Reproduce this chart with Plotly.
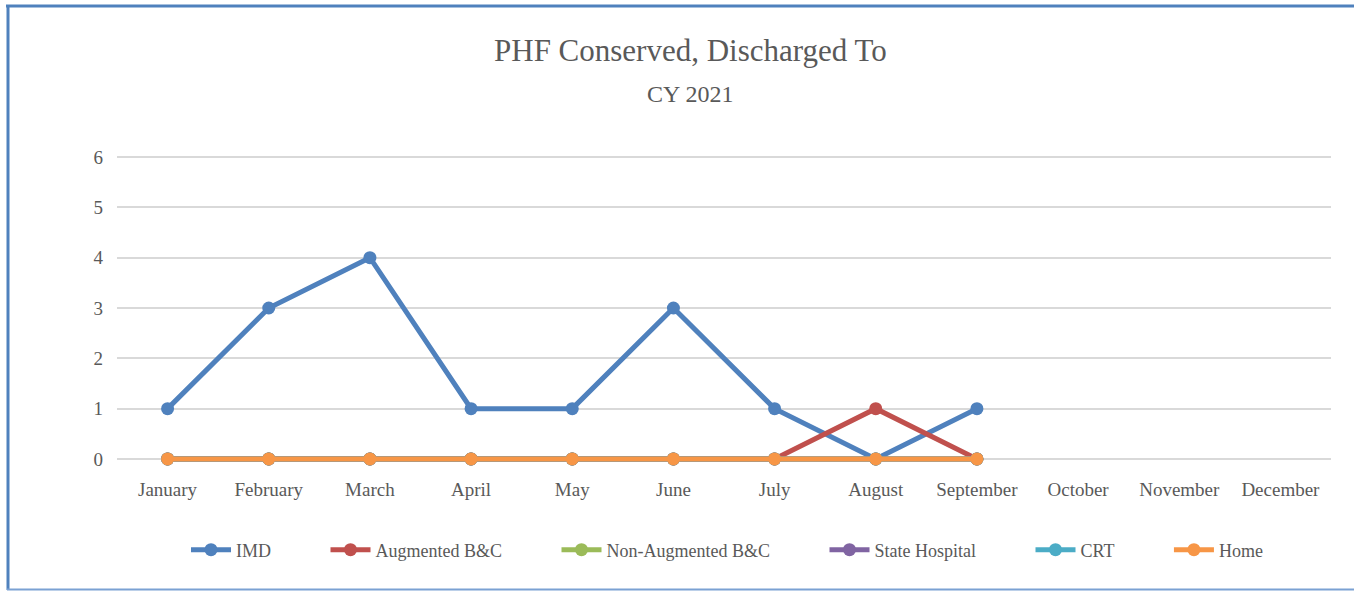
import plotly.graph_objects as go

months = ["January", "February", "March", "April", "May", "June", "July",
          "August", "September", "October", "November", "December"]
imd = [1, 3, 4, 1, 1, 3, 1, 0, 1]
augmented = [0, 0, 0, 0, 0, 0, 0, 1, 0]
non_augmented = [0, 0, 0, 0, 0, 0, 0, 0, 0]
state_hospital = [0, 0, 0, 0, 0, 0, 0, 0, 0]
crt = [0, 0, 0, 0, 0, 0, 0, 0, 0]
home = [0, 0, 0, 0, 0, 0, 0, 0, 0]

series = [
    ("IMD", imd, "#4F81BD"),
    ("Augmented B&C", augmented, "#C0504D"),
    ("Non-Augmented B&C", non_augmented, "#9BBB59"),
    ("State Hospital", state_hospital, "#8064A2"),
    ("CRT", crt, "#4BACC6"),
    ("Home", home, "#F79646"),
]

FONT = "Liberation Serif"
GAP = "\u00a0" * 11
fig = go.Figure()
for i, (name, vals, color) in enumerate(series):
    label = name + (GAP if i < len(series) - 1 else "")
    fig.add_trace(go.Scatter(
        x=months[:len(vals)], y=vals, name=label, mode="lines+markers",
        line=dict(color=color, width=5),
        marker=dict(color=color, size=13),
        cliponaxis=False,
    ))

W, H = 1354, 591
L, R, T, B = 117, 23, 156, 126
pw, ph = W - L - R, H - T - B

def px(x):
    return (x - L) / pw

def py(y):
    return (H - B - y) / ph

fig.update_layout(
    width=W, height=H,
    margin=dict(l=L, r=R, t=T, b=B),
    paper_bgcolor="white", plot_bgcolor="white",
    font=dict(family=FONT, color="#595959", size=18),
    xaxis=dict(
        categoryorder="array", categoryarray=months, range=[-0.5, 11.5],
        showgrid=False, showline=False, zeroline=False, ticks="",
        tickfont=dict(size=19, color="#595959"), ticklabelstandoff=11,
    ),
    yaxis=dict(
        range=[-0.12, 6.02], dtick=1, showgrid=True, gridcolor="#D9D9D9", gridwidth=2,
        zeroline=False, showline=False, ticks="",
        tickfont=dict(size=19, color="#595959"), ticklabelstandoff=13,
    ),
    legend=dict(
        orientation="h", x=px(186), xanchor="left", y=py(550), yanchor="middle",
        font=dict(size=18, color="#595959"), itemwidth=40, traceorder="normal",
    ),
    showlegend=True,
)
fig.update_xaxes(type="category")
fig.add_trace(go.Scatter(x=months[9:], y=[None] * 3, showlegend=False, hoverinfo="skip"))

fig.add_annotation(text="PHF Conserved, Discharged To", xref="paper", yref="paper",
                   x=px(690), y=py(51), xanchor="center", yanchor="middle", showarrow=False,
                   font=dict(family=FONT, size=31, color="#595959"))
fig.add_annotation(text="CY 2021", xref="paper", yref="paper",
                   x=px(690), y=py(94), xanchor="center", yanchor="middle", showarrow=False,
                   font=dict(family=FONT, size=24, color="#595959"))

shapes = [
    dict(type="line", xref="paper", yref="paper", x0=px(6), x1=px(1360), y0=py(6), y1=py(6),
         line=dict(color="#4F81BD", width=3)),
    dict(type="line", xref="paper", yref="paper", x0=px(8), x1=px(8), y0=py(5), y1=py(590),
         line=dict(color="#4F81BD", width=3)),
    dict(type="line", xref="paper", yref="paper", x0=px(7), x1=px(1360), y0=py(589.5), y1=py(589.5),
         line=dict(color="#7BA1D3", width=2)),
]
fig.update_layout(shapes=shapes)
fig.write_html("out.html", config={"displayModeBar": False},
               post_script="document.body.style.margin='0px';")
